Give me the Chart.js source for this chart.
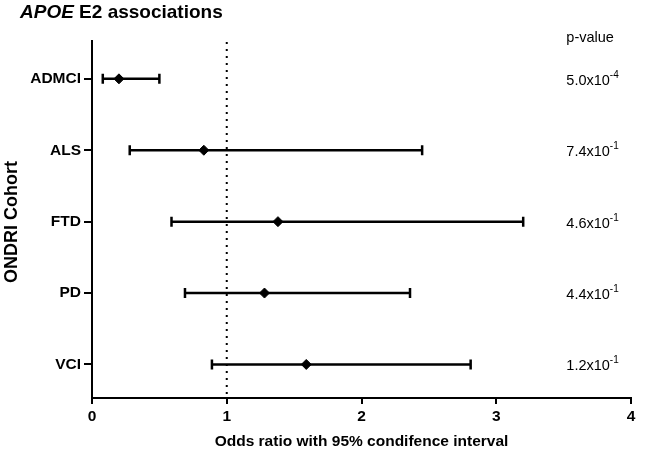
<!DOCTYPE html>
<html>
<head>
<meta charset="utf-8">
<script src="https://cdn.jsdelivr.net/npm/chart.js@4"></script>
<style>
  html, body { margin: 0; padding: 0; background: #fff; }
  #wrap { width: 653px; height: 460px; }
</style>
</head>
<body>
<div id="wrap"><canvas id="myChart" width="653" height="460"></canvas></div>
<script>
// data
const categories = ["ADMCI", "ALS", "FTD", "PD", "VCI"];
const oddsRatio = [0.20, 0.83, 1.38, 1.28, 1.59];
const ciLower = [0.08, 0.28, 0.59, 0.69, 0.89];
const ciUpper = [0.50, 2.45, 3.20, 2.36, 2.81];
const pBase = ["5.0", "7.4", "4.6", "4.4", "1.2"];
const pExp = ["-4", "-1", "-1", "-1", "-1"];
const xTicks = [0, 1, 2, 3, 4];

const FONT = "'Liberation Sans', Arial, sans-serif";

const forestPlugin = {
  id: "forest",
  beforeDatasetsDraw(chart) {
    const { ctx, scales: { x, y }, chartArea } = chart;
    ctx.save();
    // dotted reference line at OR = 1
    ctx.strokeStyle = "#000";
    ctx.lineWidth = 2;
    ctx.setLineDash([2, 5]);
    const x1 = x.getPixelForValue(1);
    ctx.beginPath();
    ctx.moveTo(x1, chartArea.top + 1);
    ctx.lineTo(x1, chartArea.bottom);
    ctx.stroke();
    ctx.setLineDash([]);
    // error bars
    ctx.lineWidth = 2.5;
    categories.forEach((c, i) => {
      const yy = y.getPixelForValue(i);
      const xl = x.getPixelForValue(ciLower[i]);
      const xu = x.getPixelForValue(ciUpper[i]);
      ctx.beginPath();
      ctx.moveTo(xl, yy); ctx.lineTo(xu, yy);
      ctx.moveTo(xl, yy - 5); ctx.lineTo(xl, yy + 5);
      ctx.moveTo(xu, yy - 5); ctx.lineTo(xu, yy + 5);
      ctx.stroke();
    });
    ctx.restore();
  },
  afterDraw(chart) {
    const { ctx, scales: { x, y }, chartArea } = chart;
    ctx.save();
    ctx.fillStyle = "#000";
    // title
    ctx.textBaseline = "alphabetic";
    ctx.textAlign = "left";
    ctx.font = "italic bold 19px " + FONT;
    ctx.fillText("APOE", 20, 18);
    const w = ctx.measureText("APOE").width;
    ctx.font = "bold 19px " + FONT;
    ctx.fillText(" E2 associations", 20 + w, 18);

    // axis titles
    ctx.font = "bold 15.5px " + FONT;
    ctx.textAlign = "center";
    ctx.fillText("Odds ratio with 95% condifence interval", (chartArea.left + chartArea.right) / 2, 446);
    ctx.save();
    ctx.translate(12, 222);
    ctx.rotate(-Math.PI / 2);
    ctx.textBaseline = "middle";
    ctx.font = "bold 18px " + FONT;
    ctx.fillText("ONDRI Cohort", 0, 0);
    ctx.restore();

    // p-values
    const px = x.getPixelForValue(3.52);
    ctx.textAlign = "left";
    ctx.font = "14.5px " + FONT;
    ctx.fillText("p-value", px, 42);
    categories.forEach((c, i) => {
      const yy = y.getPixelForValue(i) + 6;
      ctx.font = "14.5px " + FONT;
      const t = pBase[i] + "x10";
      ctx.fillText(t, px, yy);
      const tw = ctx.measureText(t).width;
      ctx.font = "10px " + FONT;
      ctx.fillText(pExp[i], px + tw, yy - 7);
    });
    ctx.restore();
  }
};

const ctx = document.getElementById("myChart").getContext("2d");
new Chart(ctx, {
  type: "scatter",
  data: {
    datasets: [{
      label: "Odds ratio",
      data: oddsRatio.map((v, i) => ({ x: v, y: i })),
      backgroundColor: "#000",
      borderColor: "#000",
      pointStyle: "rectRot",
      pointRadius: 5,
      pointHoverRadius: 5
    }]
  },
  options: {
    responsive: false,
    animation: false,
    layout: { padding: { top: 41, right: 22, left: 0, bottom: 0 } },
    plugins: { legend: { display: false }, tooltip: { enabled: false } },
    scales: {
      x: {
        type: "linear",
        min: 0,
        max: 4,
        afterBuildTicks: s => { s.ticks = xTicks.map(v => ({ value: v })); },
        afterFit: s => { s.height = 62; },
        grid: { drawOnChartArea: false, drawTicks: true, tickLength: 6, color: "#000", lineWidth: 2 },
        border: { display: true, color: "#000", width: 2 },
        ticks: { color: "#000", font: { family: FONT, size: 15.5, weight: "bold" }, padding: 3, maxRotation: 0 }
      },
      y: {
        type: "linear",
        reverse: true,
        min: -0.53,
        max: 4.47,
        afterBuildTicks: s => { s.ticks = categories.map((c, i) => ({ value: i })); },
        afterFit: s => { s.width = 92; },
        grid: { drawOnChartArea: false, drawTicks: true, tickLength: 8, color: "#000", lineWidth: 2 },
        border: { display: true, color: "#000", width: 2 },
        ticks: {
          color: "#000",
          font: { family: FONT, size: 15.5, weight: "bold" },
          padding: 3,
          callback: v => categories[v] || ""
        }
      }
    }
  },
  plugins: [forestPlugin]
});
</script>
</body>
</html>
